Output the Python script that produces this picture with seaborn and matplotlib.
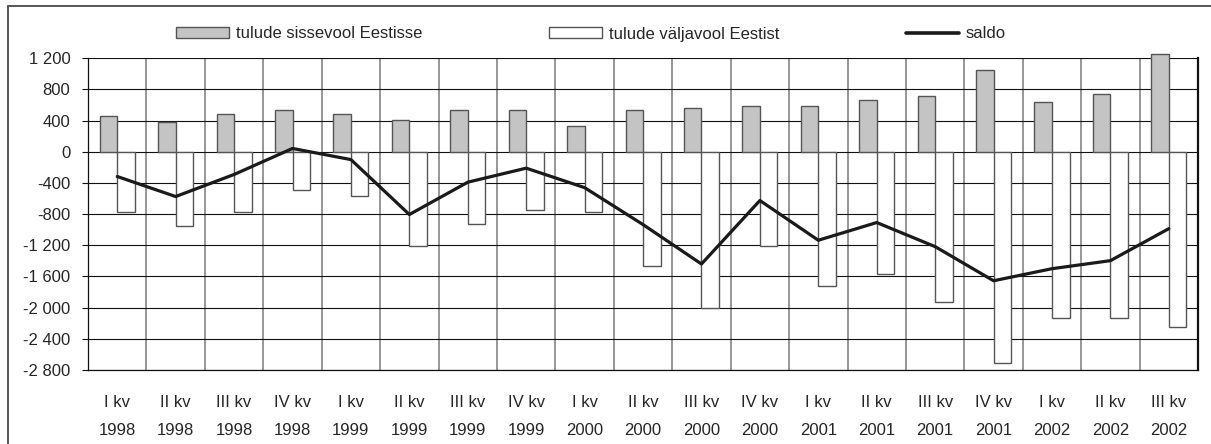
import numpy as np
import pandas as pd
import matplotlib
matplotlib.use("Agg")
import matplotlib.pyplot as plt
import matplotlib.ticker as mticker
import matplotlib.patches as mpatches
from matplotlib.lines import Line2D
import seaborn as sns

# quarters and values
quarters = ["I kv\n1998", "II kv\n1998", "III kv\n1998", "IV kv\n1998",
            "I kv\n1999", "II kv\n1999", "III kv\n1999", "IV kv\n1999",
            "I kv\n2000", "II kv\n2000", "III kv\n2000", "IV kv\n2000",
            "I kv\n2001", "II kv\n2001", "III kv\n2001", "IV kv\n2001",
            "I kv\n2002", "II kv\n2002", "III kv\n2002"]
inflow = [459, 382, 485, 536, 485, 408, 536, 536, 330, 536,
          562, 588, 588, 665, 716, 1050, 639, 742, 1256]
outflow = [-776, -956, -776, -493, -566, -1213, -926, -746, -776, -1470,
           -2002, -1213, -1723, -1573, -1933, -2705, -2139, -2139, -2242]
saldo = [-317, -574, -291, 43, -100, -805, -390, -210, -460, -934,
         -1440, -625, -1135, -908, -1217, -1655, -1500, -1397, -986]

lbl_in = "tulude sissevool Eestisse"
lbl_out = "tulude väljavool Eestist"
lbl_saldo = "saldo"

sns.set_style("white")
plt.rcParams['font.family'] = ['Liberation Sans', 'DejaVu Sans']
FS = 12

df = pd.DataFrame({
    "kvartal": quarters * 2,
    "vaartus": inflow + outflow,
    "seeria": [lbl_in] * len(quarters) + [lbl_out] * len(quarters),
})

fig = plt.figure(figsize=(12.11, 4.44), dpi=100)
ax = fig.add_axes([0.0727, 0.1667, 0.9166, 0.702])

sns.barplot(data=df, x="kvartal", y="vaartus", hue="seeria",
            palette={lbl_in: "#c4c4c4", lbl_out: "white"},
            width=0.6, dodge=True, gap=0, edgecolor="#555555", linewidth=1.0,
            legend=False, ax=ax, zorder=3)
for p in ax.patches:
    p.set_clip_on(False)

sns.lineplot(x=np.arange(len(quarters)), y=saldo, color="#1a1a1a",
             linewidth=2.3, ax=ax, zorder=4)

ax.set_xlim(-0.5, len(quarters) - 0.5)
ax.set_ylim(-2800, 1200)
ax.yaxis.set_major_locator(mticker.MultipleLocator(400))
ax.yaxis.set_major_formatter(mticker.FuncFormatter(
    lambda v, pos: f"{v:,.0f}".replace(",", " ")))

# gridlines: horizontal at ticks, vertical at category boundaries
ax.set_xticks(np.arange(-0.5, len(quarters), 1), minor=True)
ax.grid(axis="y", which="major", color="#111111", linewidth=0.8, zorder=0)
ax.grid(axis="x", which="minor", color="#7a7a7a", linewidth=1.1, zorder=0)
ax.grid(axis="x", which="major", visible=False)
ax.set_axisbelow(True)

ax.set_xlabel("")
ax.set_ylabel("")
ax.tick_params(axis="x", which="both", length=0, labelsize=FS, pad=18)
ax.tick_params(axis="y", length=4.3, width=0.8, color="#111111",
               labelsize=FS, pad=8.5, left=True)
for t in ax.get_xticklabels():
    t.set_linespacing(2.05)

for side in ["left", "bottom"]:
    ax.spines[side].set_color("#111111")
    ax.spines[side].set_linewidth(0.9)
ax.spines["top"].set_visible(False)
ax.spines["right"].set_color("#111111")
ax.spines["right"].set_linewidth(1.6)

handles = [
    mpatches.Patch(facecolor="#c4c4c4", edgecolor="#555555", linewidth=1.0, label=lbl_in),
    mpatches.Patch(facecolor="white", edgecolor="#555555", linewidth=1.0, label=lbl_out),
    Line2D([0], [0], color="#1a1a1a", linewidth=2.6, label=lbl_saldo),
]
fig.legend(handles=handles, loc="center left", bbox_to_anchor=(176 / 1211, 1 - 34 / 444),
           ncol=3, frameon=False, fontsize=FS, handlelength=3.2, handleheight=0.65,
           handletextpad=0.4, columnspacing=7.6, borderpad=0, borderaxespad=0)

# outer chart frame (left and top edges)
fig.add_artist(Line2D([8 / 1211, 8 / 1211], [0, 1 - 6 / 444], color="#555555",
                      linewidth=1.4, transform=fig.transFigure))
fig.add_artist(Line2D([8 / 1211, 1], [1 - 6 / 444, 1 - 6 / 444], color="#555555",
                      linewidth=1.4, transform=fig.transFigure))

fig.savefig("out.png", dpi=100)
